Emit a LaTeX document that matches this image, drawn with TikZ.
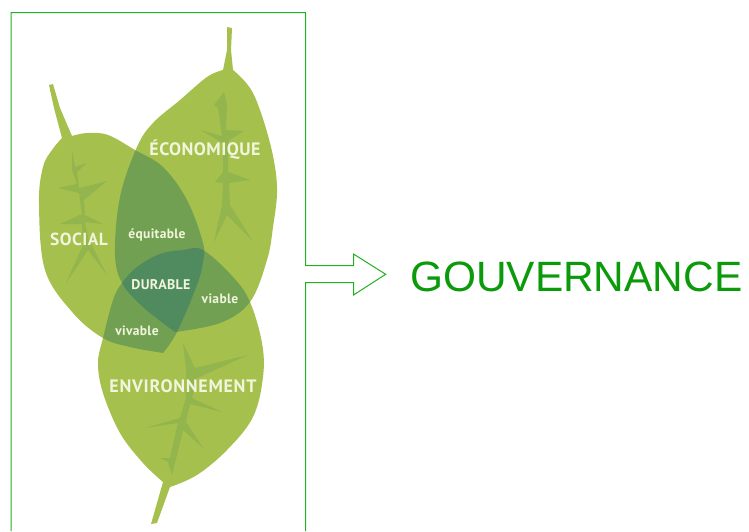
\documentclass[tikz,border=0pt]{standalone}
\usepackage{fontspec}
\setmainfont{Liberation Sans}
\newfontfamily\din[LetterSpace=2.5]{PT Sans}
\newfontfamily\dinl[LetterSpace=4]{PT Sans}
\definecolor{leafc}{HTML}{A5C04C}
\definecolor{veinc}{HTML}{93B54E}
\definecolor{twoc}{HTML}{72A052}
\definecolor{threec}{HTML}{4F8B5E}
\definecolor{framec}{HTML}{22B022}
\definecolor{govc}{HTML}{0A9A0A}
\definecolor{txtc}{HTML}{F1F5DC}
\def\leafS{(49,85) -- (53,84) -- (60,108) -- (72,136)
  -- plot[smooth,tension=.6] coordinates {(72,136) (87,133) (108,135) (135,150) (163,167) (187,200) (203,243) (203,262) (197,285) (177,332) (163,353)}
  -- plot[smooth,tension=.6] coordinates {(163,353) (130,347) (103,338) (73,313) (45,270) (39,203) (43,167) (52,150) (62,138)}
  -- (54,108) -- cycle}
\def\leafE{(227,27) -- (232,28) -- (231,50) -- (233,70)
  -- plot[smooth,tension=.6] coordinates {(233,70) (253,93) (270,143) (277,187) (273,227) (267,260) (250,302) (220,323) (175,332)}
  -- plot[smooth,tension=.6] coordinates {(175,332) (143,307) (122,283) (115,253) (120,197) (137,147) (153,123) (180,100) (207,77) (223,70)}
  -- (227,50) -- cycle}
\def\leafV{plot[smooth,tension=.6] coordinates {(163,482) (143,463) (120,433) (103,393) (98,363) (103,338) (113,300) (122,283) (137,267) (160,254) (183,250) (203,250) (233,277) (250,302) (262,343) (263,377) (253,417) (227,450) (197,475) (170,487)}
  -- (157,523) -- (151,524) -- cycle}
\tikzset{
  vein/.style={fill=veinc,draw=none},
  lbl/.style={text=txtc,inner sep=0pt,anchor=base},
}
\begin{document}
\begin{tikzpicture}[x=1pt,y=-1pt]
\useasboundingbox (0,0) rectangle (749,531);
\fill[white] (0,0) rectangle (749,531);
% frame and arrow
\draw[framec,line width=1pt,line join=miter] (11,531) -- (11,12.5) -- (305.5,12.5) -- (305.5,265.5) -- (353.5,265.5) -- (353.5,254) -- (385.7,274.3) -- (353.5,295) -- (353.5,282.5) -- (305.5,282.5) -- (305.5,531);
% leaves
\fill[leafc] \leafS;
\fill[leafc] \leafE;
\fill[leafc] \leafV;
% veins
\fill[vein] (72,150) -- (75,167) -- (87,163) -- (77,172) -- (79,188) -- (107,181) -- (84,200) -- (85,215) -- (103,224) -- (85,222) -- (88,238) -- (107,275) -- (88,250) -- (66,283) -- (83,245) -- (82,224) -- (60,224) -- (82,214) -- (79,193) -- (58,188) -- (77,184) -- (72,170) -- cycle;
\fill[vein] (224,92) -- (227,105) -- (226,130) -- (244,131) -- (228,141) -- (228,172) -- (250,180) -- (229,183) -- (230,205) -- (252,240) -- (227,215) -- (214,242) -- (222,205) -- (223,183) -- (215,182) -- (223,172) -- (223,143) -- (200,130) -- (222,136) -- (218,108) -- (214,105) -- cycle;
\fill[vein] (183,343) -- (195,368) -- (248,355) -- (197,378) -- (192,398) -- (222,412) -- (190,404) -- (186,422) -- (203,448) -- (183,430) -- (172,475) -- (168,462) -- (160,458) -- (170,458) -- (178,423) -- (145,428) -- (180,418) -- (186,398) -- (186,370) -- cycle;
% pairwise overlaps
\begin{scope}\clip \leafS; \fill[twoc] \leafE; \end{scope}
\begin{scope}\clip \leafS; \fill[twoc] \leafV; \end{scope}
\begin{scope}\clip \leafE; \fill[twoc] \leafV; \end{scope}
\begin{scope}\clip \leafS; \clip \leafE; \fill[threec] \leafV; \end{scope}
% labels
\node[lbl,font=\din\bfseries\fontsize{18}{18}\selectfont] (eco) at (205,155) {ÉCONOMIQUE};
\node[lbl,font=\din\bfseries\fontsize{17.5}{17.5}\selectfont] (soc) at (79,245) {SOCIAL};
\node[lbl,font=\din\bfseries\fontsize{13.5}{13.5}\selectfont] (equ) at (157,238) {équitable};
\node[lbl,font=\din\bfseries\fontsize{14}{14}\selectfont] (dur) at (161,289) {DURABLE};
\node[lbl,font=\din\bfseries\fontsize{13.5}{13.5}\selectfont] (via) at (220,303) {viable};
\node[lbl,font=\din\bfseries\fontsize{13.5}{13.5}\selectfont] (viv) at (137,335) {vivable};
\node[lbl,font=\dinl\bfseries\fontsize{18}{18}\selectfont] (env) at (183,392) {ENVIRONNEMENT};
\node[text=govc,inner sep=0pt,anchor=base west,font=\fontsize{42.4}{42.4}\selectfont] (gov) at (410,291) {GOUVERNANCE};
\end{tikzpicture}
\end{document}
